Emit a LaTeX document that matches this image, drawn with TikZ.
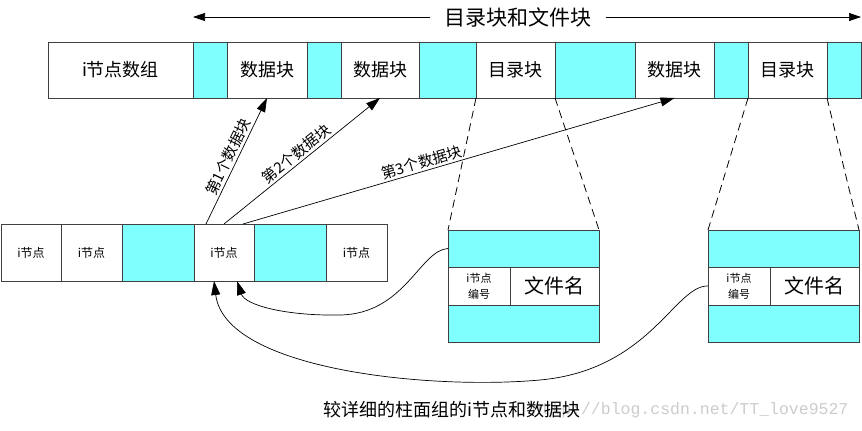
\documentclass[tikz,border=0pt]{standalone}
\usepackage{fontspec}
\usetikzlibrary{positioning}
\usetikzlibrary{arrows.meta}
\newfontfamily\cjk{Noto Sans CJK SC}
\newfontfamily\marca{Liberation Mono}
\definecolor{celeste}{RGB}{128,255,255}

\begin{document}
\begin{tikzpicture}[x=1pt, y=-1pt,
    celda/.style={draw=black!75, line width=1pt, minimum height=56pt, inner sep=0pt, outer sep=0pt,
                  font=\cjk\fontsize{18pt}{20pt}\selectfont},
    hueco/.style={celda, fill=celeste},
    chica/.style={celda, minimum height=57pt, font=\cjk\fontsize{12pt}{14pt}\selectfont},
    fila/.style={celda, minimum width=151pt, minimum height=37pt, fill=celeste},
    flecha/.style={-{Triangle[length=14pt, width=9pt]}, line width=0.7pt},
    etiqueta/.style={font=\cjk\fontsize{15pt}{17pt}\selectfont, inner sep=2pt},
    guia/.style={dash pattern=on 8pt off 5pt, line width=0.8pt}]
  \useasboundingbox (0,0) rectangle (862,431);

  % Fila de arriba
  \node[celda, minimum width=145pt, anchor=west] (inod) at (48,70) {i节点数组};
  \node[hueco, minimum width=34pt, right=0pt of inod] (h1) {};
  \node[celda, minimum width=80pt, right=0pt of h1] (d1) {数据块};
  \node[hueco, minimum width=34pt, right=0pt of d1] (h2) {};
  \node[celda, minimum width=78pt, right=0pt of h2] (d2) {数据块};
  \node[hueco, minimum width=57pt, right=0pt of d2] (h3) {};
  \node[celda, minimum width=79pt, right=0pt of h3] (r1) {目录块};
  \node[hueco, minimum width=80pt, right=0pt of r1] (h4) {};
  \node[celda, minimum width=79pt, right=0pt of h4] (d3) {数据块};
  \node[hueco, minimum width=34pt, right=0pt of d3] (h5) {};
  \node[celda, minimum width=79pt, right=0pt of h5] (r2) {目录块};
  \node[hueco, minimum width=34pt, right=0pt of r2] (h6) {};

  % Titulo
  \node[font=\cjk\fontsize{21pt}{23pt}\selectfont, inner xsep=14pt] (tit) at (518,17) {目录块和文件块};
  \draw[-{Triangle[length=12pt, width=8pt]}, line width=0.7pt] (tit.west) -- (h1.west |- tit.west);
  \draw[-{Triangle[length=12pt, width=8pt]}, line width=0.7pt] (tit.east) -- (h6.east |- tit.east);

  % Fila de abajo
  \node[chica, minimum width=60pt, anchor=west] (b1) at (1,252.5) {i节点};
  \node[chica, minimum width=61pt, right=0pt of b1] (b2) {i节点};
  \node[chica, minimum width=72pt, fill=celeste, right=0pt of b2] (b3) {};
  \node[chica, minimum width=60pt, right=0pt of b3] (b4) {i节点};
  \node[chica, minimum width=72pt, fill=celeste, right=0pt of b4] (b5) {};
  \node[chica, minimum width=61pt, right=0pt of b5] (b6) {i节点};

  % Directorios
  \node[fila, anchor=north west] (mtop) at (448,230) {};
  \node[celda, minimum width=62pt, minimum height=38pt, anchor=north west, align=center,
        font=\cjk\fontsize{11pt}{16pt}\selectfont] (mnum) at (mtop.south west) {i节点\\编号};
  \node[celda, minimum width=89pt, minimum height=38pt, right=0pt of mnum,
        font=\cjk\fontsize{20pt}{22pt}\selectfont] (mnom) {文件名};
  \node[fila, anchor=north west] (mbot) at (mnum.south west) {};

  \node[fila, anchor=north west] (rtop) at (708,230) {};
  \node[celda, minimum width=62pt, minimum height=38pt, anchor=north west, align=center,
        font=\cjk\fontsize{11pt}{16pt}\selectfont] (rnum) at (rtop.south west) {i节点\\编号};
  \node[celda, minimum width=89pt, minimum height=38pt, right=0pt of rnum,
        font=\cjk\fontsize{20pt}{22pt}\selectfont] (rnom) {文件名};
  \node[fila, anchor=north west] (rbot) at (rnum.south west) {};

  % Lineas de trazos
  \draw[guia] (r1.south west) -- (mtop.north west);
  \draw[guia] (r1.south east) -- (mtop.north east);
  \draw[guia] (r2.south west) -- (rtop.north west);
  \draw[guia] (r2.south east) -- (rtop.north east);

  % Flechas
  \draw[flecha] ([xshift=-18pt]b4.north) -- (d1.south) node[midway, sloped, above, etiqueta] {第1个数据块};
  \draw[flecha] (b4.north) -- (d2.south) node[midway, sloped, above, etiqueta] {第2个数据块};
  \draw[flecha] ([xshift=19pt]b4.north) -- (d3.south) node[pos=0.42, sloped, above, etiqueta] {第3个数据块};
  \draw[flecha] (mtop.west) .. controls (420,250) and (405,314) .. (340,315)
                .. controls (285,316) and (245,305) .. ([xshift=13pt]b4.south);
  \draw[flecha] (rnum.west) .. controls (675,285) and (650,370) .. (540,380)
                .. controls (430,390) and (225,370) .. ([xshift=-10pt]b4.south);

  % Pie
  \node[font=\marca\fontsize{16.5pt}{18pt}\selectfont, text=black!20] (marca) at (690,410) {http://blog.csdn.net/TT\_love9527};
  \node[font=\cjk\fontsize{18pt}{20pt}\selectfont] (pie) at (452,410) {较详细的柱面组的i节点和数据块};
\end{tikzpicture}
\end{document}
